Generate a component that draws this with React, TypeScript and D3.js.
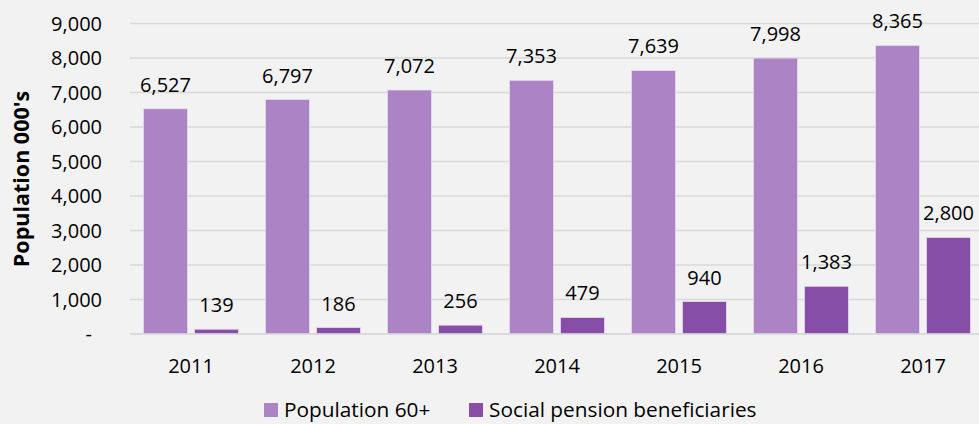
import React from "react";
import * as d3 from "d3";

const years = ["2011", "2012", "2013", "2014", "2015", "2016", "2017"];
const population60 = [6527, 6797, 7072, 7353, 7639, 7998, 8365];
const pensionBeneficiaries = [139, 186, 256, 479, 940, 1383, 2800];
const yTicks = [0, 1000, 2000, 3000, 4000, 5000, 6000, 7000, 8000, 9000];
const seriesNames = ["Population 60+", "Social pension beneficiaries"];
const colors = ["#AC83C4", "#864EA6"];

const W = 979;
const H = 424;
const FONT = "'Open Sans', sans-serif";
const FS = 20;

export default function App() {
  const left = 130;
  const right = 984;
  const top = 23.5;
  const bottom = 334;

  const x = d3.scaleBand<string>().domain(years).range([left, right]).paddingInner(0).paddingOuter(0);
  const y = d3.scaleLinear().domain([0, 9000]).range([bottom, top]);
  const fmt = d3.format(",");

  const bw = x.bandwidth();
  const barW = 44;
  const gap = 7;
  const offset = (bw - (2 * barW + gap)) / 2;

  const series = [population60, pensionBeneficiaries];
  const legendX = [264, 469];

  return (
    <svg width={W} height={H} style={{ display: "block", position: "absolute", left: 0, top: 0 }}>
      <rect x={0} y={0} width={W} height={H} fill="#F2F2F2" />
      {yTicks.map((t) => (
        <g key={t}>
          <line x1={left} x2={W} y1={y(t)} y2={y(t)} stroke="#D9D9D9" strokeWidth={1.5} />
          <text x={t === 0 ? 92 : 102} y={y(t)} dy="0.35em" textAnchor="end" fontFamily={FONT} fontSize={FS} fill="#000">
            {t === 0 ? "-" : fmt(t)}
          </text>
        </g>
      ))}
      <text
        transform={`translate(21,179) rotate(-90)`}
        textAnchor="middle"
        dy="0.35em"
        fontFamily={FONT}
        fontSize={21.5}
        fontWeight="bold"
        fill="#000"
      >
        Population 000's
      </text>
      {years.map((yr, i) => {
        const bx = x(yr)!;
        return (
          <g key={yr}>
            {series.map((s, si) => {
              const rx = bx + offset + si * (barW + gap);
              const v = s[i];
              return (
                <g key={si}>
                  <rect
                    x={rx}
                    y={y(v)}
                    width={barW}
                    height={bottom - y(v)}
                    fill={colors[si]}
                    stroke="#E6DAEE"
                    strokeWidth={0.8}
                  />
                  <text
                    x={rx + barW / 2}
                    y={y(v) - 17}
                    textAnchor="middle"
                    fontFamily={FONT}
                    fontSize={FS}
                    fill="#000"
                  >
                    {fmt(v)}
                  </text>
                </g>
              );
            })}
            <text
              x={bx + offset + barW + gap / 2}
              y={373}
              textAnchor="middle"
              fontFamily={FONT}
              fontSize={FS}
              fill="#000"
            >
              {yr}
            </text>
          </g>
        );
      })}
      <line x1={left} x2={W} y1={bottom} y2={bottom} stroke="#D9D9D9" strokeWidth={1.5} />
      {seriesNames.map((n, i) => {
        const lx = legendX[i];
        return (
          <g key={n}>
            <rect x={lx} y={403} width={14} height={14} fill={colors[i]} />
            <text x={lx + 20} y={416.5} fontFamily={FONT} fontSize={20.8} fill="#000">
              {n}
            </text>
          </g>
        );
      })}
    </svg>
  );
}
